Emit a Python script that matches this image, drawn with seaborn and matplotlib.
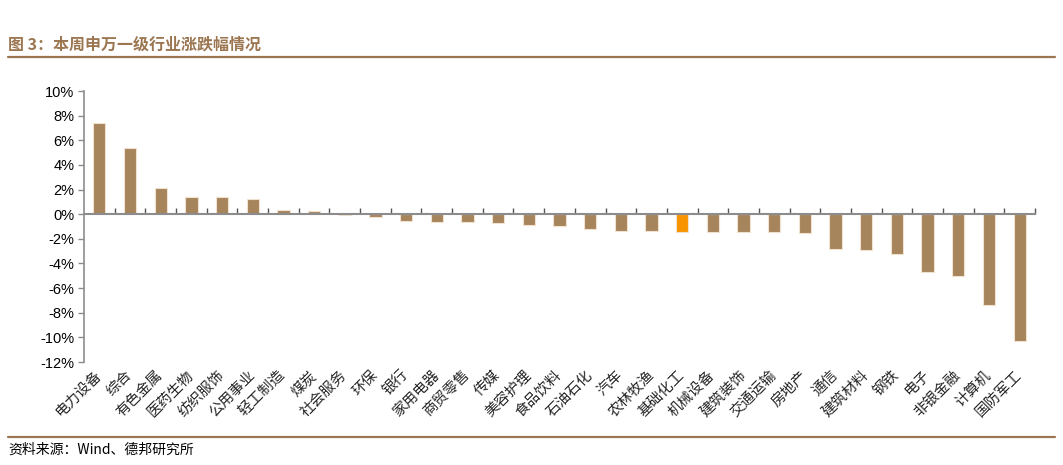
import matplotlib
matplotlib.use("Agg")
import matplotlib.pyplot as plt
import seaborn as sns
import pandas as pd
from matplotlib.ticker import FuncFormatter, MultipleLocator, FixedLocator

categories = ["电力设备", "综合", "有色金属", "医药生物", "纺织服饰", "公用事业", "轻工制造", "煤炭",
              "社会服务", "环保", "银行", "家用电器", "商贸零售", "传媒", "美容护理", "食品饮料",
              "石油石化", "汽车", "农林牧渔", "基础化工", "机械设备", "建筑装饰", "交通运输", "房地产",
              "通信", "建筑材料", "钢铁", "电子", "非银金融", "计算机", "国防军工"]
values = [7.4, 5.38, 2.1, 1.4, 1.4, 1.23, 0.35, 0.27,
          -0.05, -0.25, -0.52, -0.6, -0.65, -0.74, -0.85, -1.0,
          -1.2, -1.39, -1.39, -1.42, -1.45, -1.45, -1.45, -1.56,
          -2.79, -2.87, -3.25, -4.67, -5.05, -7.35, -10.3]
highlight = "基础化工"

title = "图 3：本周申万一级行业涨跌幅情况"
source = "资料来源：Wind、德邦研究所"

sns.set_theme(style="white")
plt.rcParams['font.family'] = ['Noto Sans CJK SC', 'DejaVu Sans']
plt.rcParams['axes.unicode_minus'] = False

BROWN = "#a6845c"
ORANGE = "#f79400"
TITLE_C = "#9b7651"
AXIS_C = "#8c8c8c"

df = pd.DataFrame({"cat": categories, "val": values})
palette = {c: (ORANGE if c == highlight else BROWN) for c in categories}

fig = plt.figure(figsize=(10.63, 4.65), dpi=100)
ax = fig.add_axes([84 / 1063, 1 - 362 / 465, (1035 - 84) / 1063, (362 - 91) / 465])

sns.barplot(data=df, x="cat", y="val", hue="cat", palette=palette, legend=False,
            width=0.4, edgecolor="#f0e2cf", linewidth=0.8, ax=ax, saturation=1)

n = len(categories)
ax.set_xlim(-0.5, n - 0.5)
ax.set_ylim(-12, 10)
ax.yaxis.set_major_locator(MultipleLocator(2))
ax.yaxis.set_major_formatter(FuncFormatter(lambda v, p: f"{v:.0f}%"))
ax.tick_params(axis="y", direction="out", length=4, width=1, color=AXIS_C,
               labelsize=10.5, labelcolor="black", pad=3, left=True)
for lbl in ax.get_yticklabels():
    lbl.set_family(["Liberation Sans", "DejaVu Sans"])

for s in ["top", "right"]:
    ax.spines[s].set_visible(False)
ax.spines["left"].set_color(AXIS_C)
ax.spines["left"].set_linewidth(1.2)
ax.spines["bottom"].set_position(("data", 0))
ax.spines["bottom"].set_color(AXIS_C)
ax.spines["bottom"].set_linewidth(1.5)

ax.xaxis.set_major_locator(FixedLocator([i + 0.5 for i in range(n)]))
ax.set_xticklabels([])
ax.tick_params(axis="x", direction="in", length=4, width=1, color="#555555", bottom=True)
ax.set_xlabel("")
ax.set_ylabel("")

sec = ax.secondary_xaxis(0)
sec.set_xticks(range(n))
sec.set_xticklabels(categories, rotation=45, ha="right", va="center",
                    rotation_mode="anchor", fontsize=10.5)
sec.tick_params(length=0, pad=8)
sec.spines["bottom"].set_visible(False)

fig.text(8 / 1063, 1 - 45 / 465, title, fontsize=11.5, fontweight="bold",
         color=TITLE_C, va="center", ha="left")
fig.add_artist(plt.Line2D([8 / 1063, 1055 / 1063], [1 - 57 / 465, 1 - 57 / 465],
                          color=TITLE_C, linewidth=1.6))
fig.add_artist(plt.Line2D([8 / 1063, 1055 / 1063], [1 - 437 / 465, 1 - 437 / 465],
                          color=TITLE_C, linewidth=1.6))
fig.text(8 / 1063, 1 - 450 / 465, source, fontsize=10, color="black",
         va="center", ha="left")

fig.savefig("out.png", dpi=100)
